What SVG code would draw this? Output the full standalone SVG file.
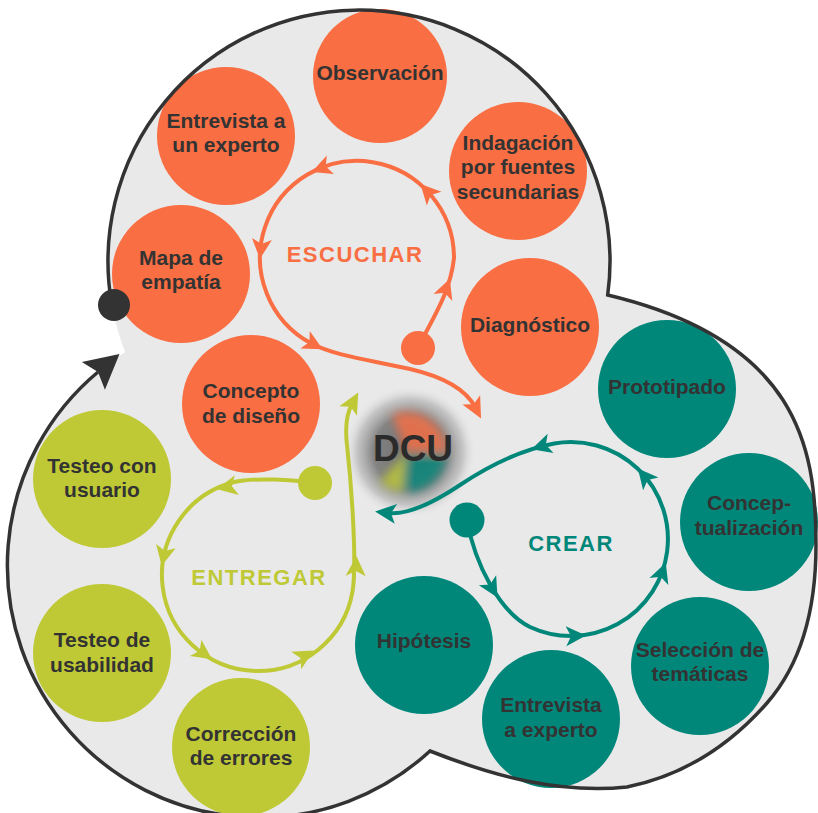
<svg xmlns="http://www.w3.org/2000/svg" xmlns:xlink="http://www.w3.org/1999/xlink" width="818" height="813" viewBox="0 0 818 813">
<style>
.node text{font-family:"Liberation Sans",Arial,sans-serif;font-weight:bold;font-size:21px;fill:#333;text-anchor:middle}
.or circle,.or-f{fill:#F96E42}
.te circle,.te-f{fill:#00877A}
.li circle,.li-f{fill:#BFC935}
.loop{fill:none;stroke-width:4}
.or-s{stroke:#F96E42}
.te-s{stroke:#00877A}
.li-s{stroke:#BFC935}
.lbl{font-family:"Liberation Sans",Arial,sans-serif;font-weight:bold;font-size:22px;letter-spacing:1.5px;text-anchor:middle}
</style>
<defs>
<path id="ah" d="M11,0 L-9,-10 L-4,0 L-9,10 Z"/>
<marker id="endOr" viewBox="-10 -12 26 24" markerWidth="26" markerHeight="24" refX="0" refY="0" orient="auto" markerUnits="userSpaceOnUse"><path d="M13,0 L-8,-10 L-3,0 L-8,10 Z" fill="#F96E42"/></marker>
<marker id="endTe" viewBox="-10 -12 26 24" markerWidth="26" markerHeight="24" refX="0" refY="0" orient="auto" markerUnits="userSpaceOnUse"><path d="M13,0 L-8,-10 L-3,0 L-8,10 Z" fill="#00877A"/></marker>
<marker id="endLi" viewBox="-10 -12 26 24" markerWidth="26" markerHeight="24" refX="0" refY="0" orient="auto" markerUnits="userSpaceOnUse"><path d="M13,0 L-8,-10 L-3,0 L-8,10 Z" fill="#BFC935"/></marker>
<marker id="endBk" viewBox="-8 -20 38 40" markerWidth="38" markerHeight="40" refX="0" refY="0" orient="auto" markerUnits="userSpaceOnUse"><path d="M28,0 L-6,-18 L0,0 L-6,18 Z" fill="#333"/></marker>
<radialGradient id="halo" cx="0.5" cy="0.5" r="0.5">
<stop offset="0" stop-color="#6e6e6e"/>
<stop offset="0.55" stop-color="#838383"/>
<stop offset="0.8" stop-color="#b4b4b4" stop-opacity="0.7"/>
<stop offset="1" stop-color="#e9e9e9" stop-opacity="0"/>
</radialGradient>
<filter id="blur" x="-50%" y="-50%" width="200%" height="200%"><feGaussianBlur stdDeviation="5"/></filter>
</defs>

<g id="background" fill="#E9E9E9">
<circle cx="359" cy="261" r="251"/>
<circle cx="260" cy="565" r="252"/>
<path d="M607.7,295 C675,311 745,341 783,400 C811,444 816,493 816,545 C816,603 805,659.5 767,703 C729.4,745.8 682.9,775.6 627,787 C559,794 493,776 430,751 L400,550 L450,350 Z"/>
</g>

<g id="n-observacion" class="node or"><circle cx="380" cy="76" r="67"/><text><tspan x="380" y="80">Observación</tspan></text></g>
<g id="n-entrevista-experto" class="node or"><circle cx="226" cy="136" r="69"/><text><tspan x="226" y="128">Entrevista a</tspan><tspan x="226" y="152">un experto</tspan></text></g>
<g id="n-indagacion" class="node or"><circle cx="518" cy="171" r="69"/><text><tspan x="518" y="150">Indagación</tspan><tspan x="518" y="174">por fuentes</tspan><tspan x="518" y="199">secundarias</tspan></text></g>
<g id="n-mapa" class="node or"><circle cx="181" cy="274" r="69"/><text><tspan x="181" y="265">Mapa de</tspan><tspan x="181" y="289">empatía</tspan></text></g>
<g id="n-diagnostico" class="node or"><circle cx="530" cy="327" r="69"/><text><tspan x="530" y="332">Diagnóstico</tspan></text></g>
<g id="n-concepto" class="node or"><circle cx="251" cy="404" r="69"/><text><tspan x="251" y="398">Concepto</tspan><tspan x="251" y="423">de diseño</tspan></text></g>

<g id="n-prototipado" class="node te"><circle cx="667" cy="389" r="69"/><text><tspan x="667" y="394">Prototipado</tspan></text></g>
<g id="n-conceptualizacion" class="node te"><circle cx="749" cy="522" r="69"/><text><tspan x="749" y="510">Concep-</tspan><tspan x="749" y="535">tualización</tspan></text></g>
<g id="n-seleccion" class="node te"><circle cx="700" cy="666" r="69"/><text><tspan x="700" y="657">Selección de</tspan><tspan x="700" y="681">temáticas</tspan></text></g>
<g id="n-entrevista-a-experto" class="node te"><circle cx="551" cy="719" r="69"/><text><tspan x="551" y="712">Entrevista</tspan><tspan x="551" y="737">a experto</tspan></text></g>
<g id="n-hipotesis" class="node te"><circle cx="424" cy="645" r="69"/><text><tspan x="424" y="648">Hipótesis</tspan></text></g>

<g id="n-testeo-usuario" class="node li"><circle cx="102" cy="479" r="69"/><text><tspan x="102" y="473">Testeo con</tspan><tspan x="102" y="497">usuario</tspan></text></g>
<g id="n-testeo-usabilidad" class="node li"><circle cx="102" cy="653" r="69"/><text><tspan x="102" y="647">Testeo de</tspan><tspan x="102" y="672">usabilidad</tspan></text></g>
<g id="n-correccion" class="node li"><circle cx="241" cy="747" r="69"/><text><tspan x="241" y="741">Corrección</tspan><tspan x="241" y="765">de errores</tspan></text></g>

<g id="dcu-halo">
<circle cx="410" cy="452" r="66" fill="url(#halo)"/>
<g filter="url(#blur)" opacity="0.8">
<path d="M406,452 L392.3,414.4 A40,40 0 0 1 446,452 Z" fill="#F96E42"/>
<path d="M406,452 L446,452 A40,40 0 0 1 402.5,491.8 Z" fill="#00877A"/>
<path d="M406,452 L402.5,491.8 A40,40 0 0 1 380,482 Z" fill="#BFC935"/>
</g>
</g>

<g id="connectors">
<path id="outline" d="M111.8,304.6 A251,251 0 1 1 607.7,295 C675,311 745,341 783,400 C811,444 816,493 816,545 C816,603 805,659.5 767,703 C729.4,745.8 682.9,775.6 627,787 C559,794 493,776 430,751 A252,252 0 1 1 98,372" fill="none" stroke="#333" stroke-width="3.5" marker-end="url(#endBk)"/>
<circle cx="114" cy="305" r="16" fill="#333"/>

<g id="loop-escuchar">
<path class="loop or-s" d="M418,348 C430,322 450,295 454,258 A97,97 0 1 0 311.5,343.6 C335,356 370,360 410,369 C440,376 465,388 475,407" marker-end="url(#endOr)"/>
<circle class="or-f" cx="418" cy="348" r="17"/>
<g class="or-f">
<use xlink:href="#ah" href="#ah" transform="translate(446,289) rotate(-70)"/>
<use xlink:href="#ah" href="#ah" transform="translate(428,192) rotate(-133)"/>
<use xlink:href="#ah" href="#ah" transform="translate(322,168) rotate(159)"/>
<use xlink:href="#ah" href="#ah" transform="translate(261,248) rotate(96)"/>
<use xlink:href="#ah" href="#ah" transform="translate(313,344) rotate(28)"/>
</g>
</g>

<g id="loop-crear">
<path class="loop te-s" d="M467,520 C475,565 500,612 530,627 A97,97 0 1 0 554.2,443.5 C520,450 490,465 460,485 C430,505 405,515 388,513" marker-end="url(#endTe)"/>
<circle class="te-f" cx="467" cy="520" r="17.5"/>
<g class="te-f">
<use xlink:href="#ah" href="#ah" transform="translate(492,588) rotate(60)"/>
<use xlink:href="#ah" href="#ah" transform="translate(575,636) rotate(-2)"/>
<use xlink:href="#ah" href="#ah" transform="translate(662,573) rotate(-70)"/>
<use xlink:href="#ah" href="#ah" transform="translate(645,477) rotate(-130)"/>
<use xlink:href="#ah" href="#ah" transform="translate(542,446) rotate(163)"/>
</g>
</g>

<g id="loop-entregar">
<path class="loop li-s" d="M315,483 C295,480 255,477 233.2,482.3 A96,96 0 1 0 352.5,591.7 C357,565 352,490 347,445 C345,428 346,415 352,404" marker-end="url(#endLi)"/>
<circle class="li-f" cx="315" cy="483" r="17"/>
<g class="li-f">
<use xlink:href="#ah" href="#ah" transform="translate(228,487) rotate(168)"/>
<use xlink:href="#ah" href="#ah" transform="translate(164,555) rotate(102)"/>
<use xlink:href="#ah" href="#ah" transform="translate(203,653) rotate(35)"/>
<use xlink:href="#ah" href="#ah" transform="translate(304,656) rotate(-30)"/>
<use xlink:href="#ah" href="#ah" transform="translate(356,567) rotate(-88)"/>
</g>
</g>
</g>

<g id="labels">
<text class="lbl" x="355" y="262" fill="#F96E42">ESCUCHAR</text>
<text class="lbl" x="571" y="551" fill="#00877A">CREAR</text>
<text class="lbl" x="259" y="585" fill="#BFC935">ENTREGAR</text>
</g>

<g id="dcu">
<text x="413" y="461" font-family="Liberation Sans, Arial, sans-serif" font-weight="bold" font-size="37" fill="#2b2b2b" text-anchor="middle">DCU</text>
</g>
</svg>
